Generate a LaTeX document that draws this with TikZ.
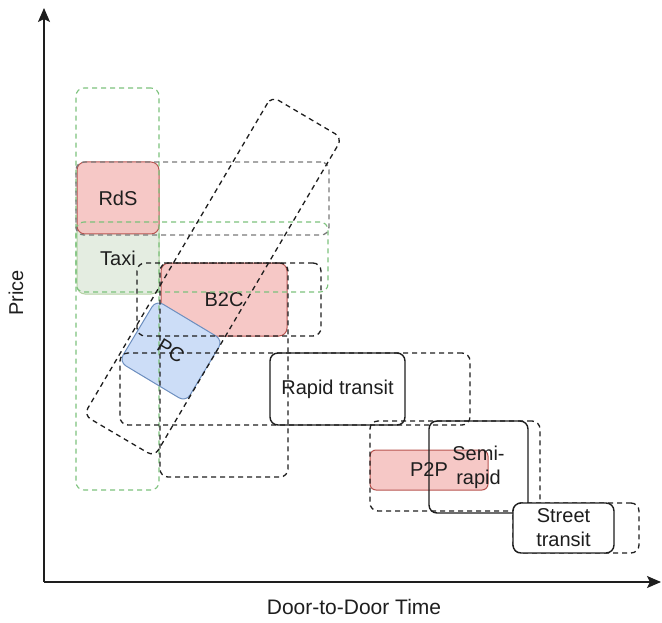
\documentclass[tikz,border=0pt]{standalone}
\usepackage{fontspec}
\setmainfont{Liberation Sans}
\usetikzlibrary{arrows.meta}
\definecolor{redfill}{HTML}{F4BEBC}
\definecolor{redline}{HTML}{B85450}
\definecolor{bluefill}{HTML}{CCDDF7}
\definecolor{blueline}{HTML}{6C8EBF}
\definecolor{greenfill}{HTML}{DDE9DA}
\definecolor{greenline}{HTML}{82B366}
\definecolor{greendash}{HTML}{7CC27C}
\definecolor{dk}{HTML}{1E1E1E}
\definecolor{gr}{HTML}{7A7A7A}
\newcommand{\lblfont}{\fontsize{20}{24}\selectfont}
\newcommand{\axfont}{\fontsize{21}{24}\selectfont}
\begin{document}
\begin{tikzpicture}[x=1pt,y=-1pt,
  sz/.style 2 args={minimum width=#1pt, minimum height=#2pt},
  base/.style={rectangle, rounded corners=8pt, inner sep=0pt, font=\lblfont, text=dk, align=center},
  redbox/.style={base, fill=redfill, fill opacity=0.85, text opacity=1, draw=redline, line width=1pt},
  bluebox/.style={base, fill=bluefill, draw=blueline, line width=1pt},
  greenbox/.style={base, fill=greenfill, fill opacity=0.8, text opacity=1, draw=greenline!60, line width=1pt},
  dashbox/.style={base, draw=dk, line width=1.3pt, dash pattern=on 5pt off 4pt},
  graydash/.style={base, draw=gr, line width=1.3pt, dash pattern=on 5pt off 4pt},
  greendashbox/.style={base, draw=greendash, line width=1.1pt, dash pattern=on 5pt off 4pt},
  solidbox/.style={base, draw=dk, line width=1.4pt},
  axis/.style={draw=dk, line width=1.5pt, -{Stealth[length=14pt,width=12pt,inset=3pt]}}
]
\useasboundingbox (0,0) rectangle (662,623);

% filled boxes
\node[greenbox, sz={82}{72}] (taxi) at (118,258) {Taxi};
\node[redbox, sz={82}{72}] (rds) at (118,198) {RdS};
\node[redbox, sz={126}{73}] (b2c) at (224,299.5) {B2C};
\node[bluebox, sz={78}{72}, rotate=-31] (pc) at (171,351) {PC};
\node[redbox, sz={118}{40}, rounded corners=6pt] (p2p) at (429,470) {P2P};

% dashed range boxes
\node[greendashbox, sz={83}{402}] (greentall) at (117.5,289) {};
\node[greendashbox, sz={252}{70}] (greenwide) at (202,257) {};
\node[graydash, sz={253}{73}] (rdsrange) at (202.5,198.5) {};
\node[dashbox, sz={184}{73}] (b2crange) at (229,299.5) {};
\node[dashbox, sz={128}{214}] (b2cvert) at (224,370) {};
\node[dashbox, sz={350}{72}] (pcrange) at (295,389) {};
\node[dashbox, sz={370}{82}, rotate=59.5] (pcdiag) at (213,276.5) {};
\node[dashbox, sz={170}{90}] (p2prange) at (455,466) {};
\node[dashbox, sz={126}{50}] (streetrange) at (576,528) {};

% solid boxes
\node[solidbox, sz={135}{72}] (rapid) at (337.5,389) {Rapid transit};
\node[solidbox, sz={99}{92}] (semi) at (478.5,467) {Semi-\\rapid};
\node[solidbox, sz={101}{50}, fill=white] (street) at (563.5,528) {Street\\transit};

% axes
\coordinate (O) at (44,582);
\coordinate (ytip) at (44,8);
\coordinate (xtip) at (661,582);
\draw[axis] (O) -- (ytip);
\draw[axis] (O) -- (xtip);
\node[font=\lblfont, text=dk, rotate=90] (price) at (16,293) {Price};
\node[font=\axfont, text=dk] (xlabel) at (354,607) {Door-to-Door Time};
\end{tikzpicture}
\end{document}
